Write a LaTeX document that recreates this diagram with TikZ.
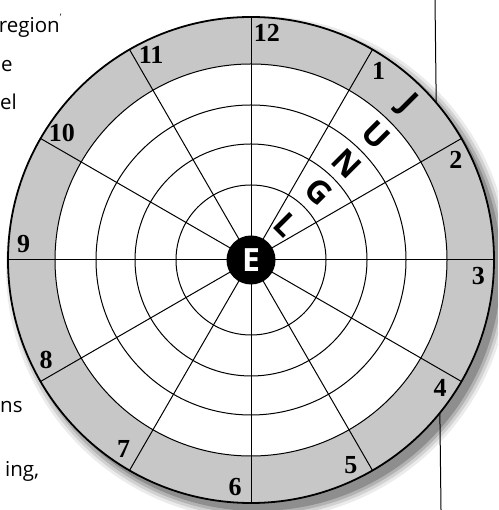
\documentclass[tikz,border=0pt]{standalone}
\usepackage{fontspec}
\newfontfamily\hourfont{Liberation Serif}
\newfontfamily\pagefont{Open Sans}

\begin{document}
\begin{tikzpicture}[
    x=1pt, y=1pt,
    ring/.style={draw, line width=1pt},
    spoke/.style={draw, line width=1pt},
    halo/.style={fill=black, draw=none},
    hour/.style={font=\hourfont\bfseries\fontsize{26}{26}\selectfont, inner sep=0pt},
    letter/.style={font=\pagefont\bfseries\fontsize{32}{32}\selectfont, inner sep=0pt, rotate=-45},
    pagetext/.style={font=\pagefont\fontsize{20.5}{20.5}\selectfont, anchor=base west, inner sep=0pt}
]

\useasboundingbox (0,0) rectangle (498,510);
\clip (0,0) rectangle (498,510);
\coordinate (c) at (251,250);
\coordinate (sc) at (258,242);

% text of the page, cut off at the left edge
\node[pagetext, anchor=base east] (t1) at (60,477) {region\rlap{\fontsize{9}{9}\selectfont\raisebox{2.6ex}{’}}};
\node[pagetext] (t2) at (1,438) {e};
\node[pagetext] (t3) at (0,400) {el};
\node[pagetext] (t4) at (0,97) {ns};
\node[pagetext] (t5) at (5,33) {ing,};

% soft shadow, then the margin rule
\fill[halo, opacity=0.08] (sc) circle (252);
\fill[halo, opacity=0.11] (sc) circle (249);
\fill[halo, opacity=0.15] (sc) circle (246);
\fill[halo, opacity=0.2] (sc) circle (243);
\coordinate (ruletop) at (435,510);
\coordinate (rulebot) at (441,0);
\draw[line width=1pt] (ruletop) -- (rulebot);

% rings
\draw[line width=1.8pt, fill=black!22] (c) circle (243);
\draw[ring, fill=white] (c) circle (196);
\draw[ring] (c) circle (155);
\draw[ring] (c) circle (116);
\draw[ring] (c) circle (75);

% spokes
\draw[spoke] (c) ++(0:243) -- ++(180:486);
\draw[spoke] (c) ++(30:243) -- ++(210:486);
\draw[spoke] (c) ++(60:243) -- ++(240:486);
\draw[spoke] (c) ++(90:243) -- ++(270:486);
\draw[spoke] (c) ++(120:243) -- ++(300:486);
\draw[spoke] (c) ++(150:243) -- ++(330:486);

\node[circle, fill=black, minimum size=49pt, inner sep=0pt, text=white,
      font=\pagefont\bfseries\fontsize{32}{32}\selectfont] (hub) at (c) {E};

% hours
\node[hour] (h12) at ([shift={(86:228)}]c) {12};
\node[hour] (h1) at ([shift={(56:228)}]c) {1};
\node[hour] (h2) at ([shift={(26:228)}]c) {2};
\node[hour] (h3) at ([shift={(-4:228)}]c) {3};
\node[hour] (h4) at ([shift={(-34:228)}]c) {4};
\node[hour] (h5) at ([shift={(-64:228)}]c) {5};
\node[hour] (h6) at ([shift={(-94:228)}]c) {6};
\node[hour] (h7) at ([shift={(-124:228)}]c) {7};
\node[hour] (h8) at ([shift={(-154:228)}]c) {8};
\node[hour] (h9) at ([shift={(176:228)}]c) {9};
\node[hour] (h10) at ([shift={(146:228)}]c) {10};
\node[hour] (h11) at ([shift={(116:228)}]c) {11};

% letters along the 1--2 direction
\node[letter] (l) at ([shift={(45:50)}]c) {L};
\node[letter] (g) at ([shift={(45:96)}]c) {G};
\node[letter] (n) at ([shift={(45:136)}]c) {N};
\node[letter] (u) at ([shift={(45:177)}]c) {U};
\node[letter] (j) at ([shift={(45:220)}]c) {J};

\end{tikzpicture}
\end{document}
